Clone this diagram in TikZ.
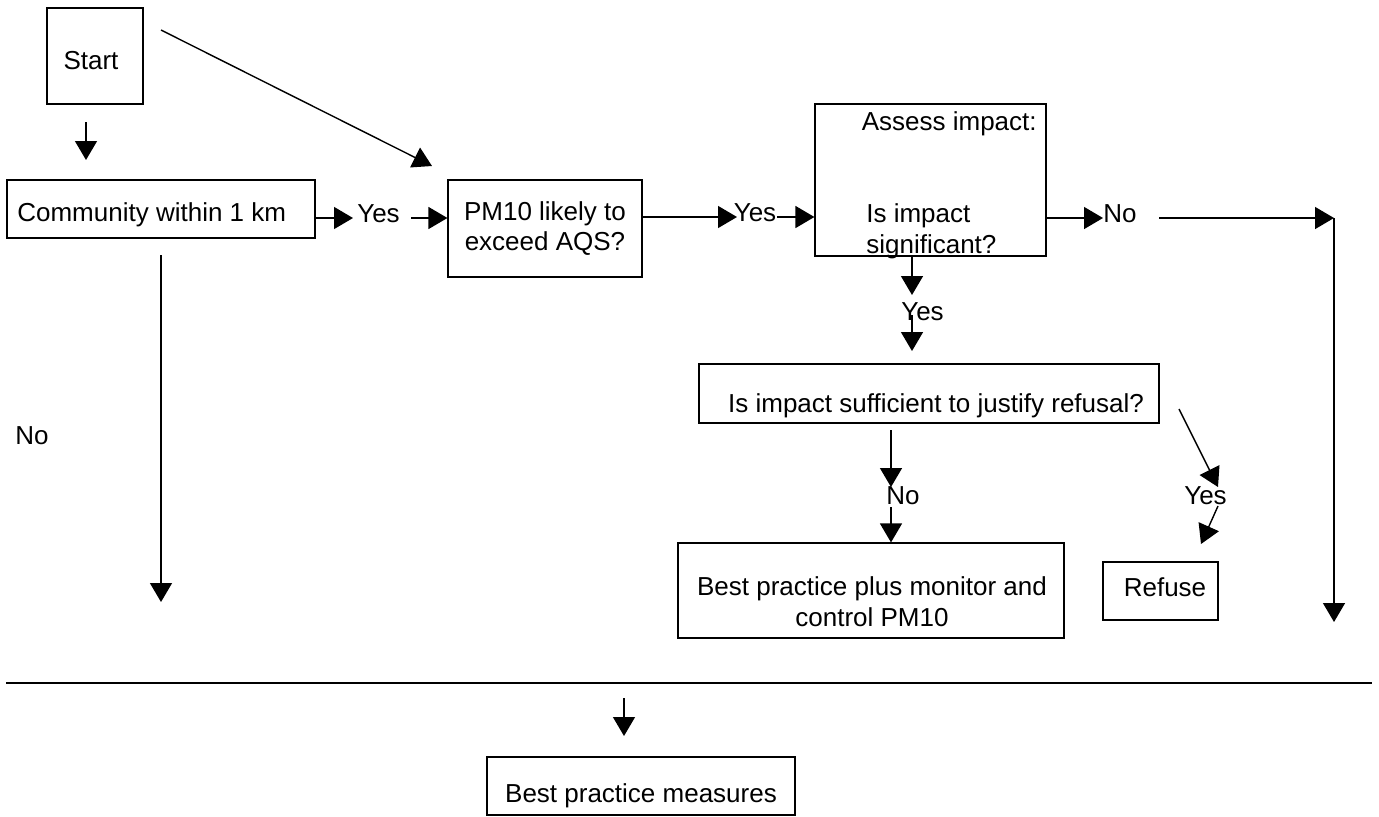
\documentclass[tikz,border=0pt]{standalone}
\usepackage{fontspec}
\setmainfont{Liberation Sans}
\usetikzlibrary{arrows.meta}

\begin{document}
\begin{tikzpicture}[x=0.02cm,y=-0.02cm,
    box/.style={draw,black,line width=0.7pt,inner sep=0pt},
    lbl/.style={inner sep=0pt,text height=0.72em,text depth=0pt,yshift=-0.06cm},
    arr/.style={black,line width=0.8pt,-{Triangle[length=0.38cm,width=0.44cm]}}]
            \tikzstyle{every node}+=[font=\fontsize{14.8pt}{17.6pt}\selectfont]
            \useasboundingbox (0,0) rectangle (1379,816);
            \node [box,minimum width=1.92cm,minimum height=1.92cm] (start) at (95,56) {};
            \node [lbl] (starttxt) at (91,60) {Start};
            \node [box,minimum width=6.16cm,minimum height=1.16cm] (comm) at (161,209) {};
            \node [lbl,anchor=west] (commtxt) at (17,212) {Community within 1 km};
            \node [box,align=center,minimum width=3.88cm,minimum height=1.94cm] (pm) at (545,228.5) {PM10 likely to\\ exceed AQS?};
            \node [box,minimum width=4.62cm,minimum height=3.04cm] (assess) at (930.5,180) {};
            \node [lbl,anchor=east] (assesstxt) at (1037,121) {Assess impact:};
            \node [inner sep=0pt,align=left,anchor=west] (signif) at (866,231) {Is impact\\significant?};
            \node [box,minimum width=9.2cm,minimum height=1.18cm] (refbox) at (929,393.5) {};
            \node [lbl] (refq) at (936,403) {Is impact sufficient to justify refusal?};
            \node [box,minimum width=7.72cm,minimum height=1.9cm] (best) at (871,590.5) {};
            \node [inner sep=0pt,align=center] (besttxt) at (872,602) {Best practice plus monitor and\\ control PM10};
            \node [box,minimum width=2.3cm,minimum height=1.16cm] (refuse) at (1160.5,591) {};
            \node [lbl] (refusetxt) at (1165,587) {Refuse};
            \node [box,minimum width=6.16cm,minimum height=1.16cm] (bpm) at (641,786) {};
            \node [lbl] (bpmtxt) at (641,793) {Best practice measures};
            \node [lbl] (yes1) at (378.5,213) {Yes};
            \node [lbl] (yes2) at (755,212) {Yes};
            \node [lbl] (no1) at (1120,213) {No};
            \node [lbl] (yes3) at (922.5,311) {Yes};
            \node [lbl] (no2) at (903,495) {No};
            \node [lbl] (yes4) at (1205.5,495) {Yes};
            \node [lbl] (no3) at (32,435) {No};
            \coordinate (startdn) at (86,122);
            \coordinate (commup) at (86,160);
            \coordinate (skewa) at (161,30);
            \coordinate (skewb) at (432,166);
            \coordinate (yes1a) at (353,218);
            \coordinate (yes1b) at (411,218);
            \coordinate (yes2a) at (737,217);
            \coordinate (yes2b) at (777,217);
            \coordinate (no1a) at (1103,218);
            \coordinate (no1b) at (1159,218);
            \coordinate (corner) at (1334,218);
            \coordinate (cornerdn) at (1334,622);
            \coordinate (yes3a) at (912,295);
            \coordinate (yes3b) at (912,315);
            \coordinate (yes3c) at (912,351);
            \coordinate (no2a) at (891,430);
            \coordinate (no2b) at (891,487);
            \coordinate (no2c) at (891,507);
            \coordinate (yes4a) at (1179,409);
            \coordinate (yes4b) at (1218,487);
            \coordinate (yes4c) at (1218,506);
            \coordinate (yes4d) at (1201,544);
            \coordinate (commdn) at (161,255);
            \coordinate (commend) at (161,602);
            \coordinate (ruleL) at (6,683);
            \coordinate (ruleR) at (1372,683);
            \coordinate (ruledn) at (624,698);
            \coordinate (bpmup) at (624,736);
            \draw [arr] (startdn) -- (commup);
            \draw [arr] (skewa) -- (skewb);
            \draw [arr] (comm.east |- yes1a) -- (yes1a);
            \draw [arr] (yes1b) -- (pm.west |- yes1b);
            \draw [arr] (pm.east |- yes2a) -- (yes2a);
            \draw [arr] (yes2b) -- (assess.west |- yes2b);
            \draw [arr] (assess.east |- no1a) -- (no1a);
            \draw [arr] (no1b) -- (corner);
            \draw [arr] (corner) -- (cornerdn);
            \draw [arr] (assess.south -| yes3a) -- (yes3a);
            \draw [arr] (yes3b) -- (yes3c);
            \draw [arr] (no2a) -- (no2b);
            \draw [arr] (no2c) -- (best.north -| no2c);
            \draw [arr] (yes4a) -- (yes4b);
            \draw [arr] (yes4c) -- (yes4d);
            \draw [arr] (commdn) -- (commend);
            \draw [black,line width=0.8pt] (ruleL) -- (ruleR);
            \draw [arr] (ruledn) -- (bpmup);
        \end{tikzpicture}
\end{document}
